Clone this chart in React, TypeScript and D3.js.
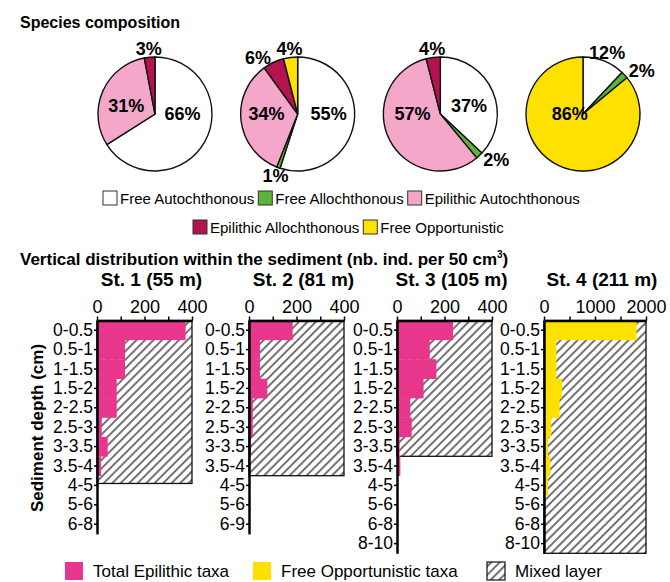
import * as d3 from "d3";
import { useEffect, useRef } from "react";

// species composition (%), one value per station
const stations = ["St. 1", "St. 2", "St. 3", "St. 4"];
const categories = [
  "Free Autochthonous",
  "Free Allochthonous",
  "Epilithic Autochthonous",
  "Epilithic Allochthonous",
  "Free Opportunistic",
];
const freeAutochthonous = [66, 55, 37, 12];
const freeAllochthonous = [0, 1, 2, 2];
const epilithicAutochthonous = [31, 34, 57, 0];
const epilithicAllochthonous = [3, 6, 4, 0];
const freeOpportunistic = [0, 4, 0, 86];

// vertical distribution (nb. ind. per 50 cm3)
const stationTitles = ["St. 1 (55 m)", "St. 2 (81 m)", "St. 3 (105 m)", "St. 4 (211 m)"];
const depthsSt1 = ["0-0.5", "0.5-1", "1-1.5", "1.5-2", "2-2.5", "2.5-3", "3-3.5", "3.5-4", "4-5", "5-6", "6-8"];
const depthsSt2 = ["0-0.5", "0.5-1", "1-1.5", "1.5-2", "2-2.5", "2.5-3", "3-3.5", "3.5-4", "4-5", "5-6", "6-9"];
const depthsSt3 = ["0-0.5", "0.5-1", "1-1.5", "1.5-2", "2-2.5", "2.5-3", "3-3.5", "3.5-4", "4-5", "5-6", "6-8", "8-10"];
const depthsSt4 = ["0-0.5", "0.5-1", "1-1.5", "1.5-2", "2-2.5", "2.5-3", "3-3.5", "3.5-4", "4-5", "5-6", "6-8", "8-10"];
const epilithicSt1 = [373, 118, 118, 83, 83, 20, 45, 17, 0, 0, 0];
const epilithicSt2 = [184, 46, 46, 77, 16, 16, 8, 0, 0, 0, 0];
const epilithicSt3 = [236, 138, 166, 112, 56, 62, 11, 14, 0, 0, 0, 0];
const opportunisticSt4 = [1816, 242, 242, 352, 307, 144, 78, 125, 78, 0, 0, 0];
// depth of the mixed layer, in depth-class units
const mixedLayerRows = [8.4, 8, 7, 12];
const axisMax = [400, 400, 400, 2000];
const ticks400 = [0, 100, 200, 300, 400];
const tickLabels400 = [0, 200, 400];
const ticks2000 = [0, 500, 1000, 1500, 2000];
const tickLabels2000 = [0, 1000, 2000];

const catColors = ["#ffffff", "#5bb53a", "#f4a7c9", "#b3134f", "#ffe100"];
const epiColor = "#e8368c";
const oppColor = "#ffe100";
const FONT = "'Liberation Sans', Arial, sans-serif";

export default function App() {
  const ref = useRef<SVGSVGElement | null>(null);

  useEffect(() => {
    const svg = d3.select(ref.current as SVGSVGElement);
    svg.selectAll("*").remove();
    svg.attr("font-family", FONT);

    const defs = svg.append("defs");
    const pat = defs
      .append("pattern")
      .attr("id", "hatch")
      .attr("patternUnits", "userSpaceOnUse")
      .attr("width", 6)
      .attr("height", 6)
      .attr("patternTransform", "rotate(45)");
    pat.append("line").attr("x1", 1).attr("y1", 0).attr("x2", 1).attr("y2", 6).attr("stroke", "#000").attr("stroke-width", 1.1);

    svg.append("text").attr("x", 20).attr("y", 28).attr("font-weight", "bold").attr("font-size", 16).text("Species composition");

    // ---- pies
    const series = [freeAutochthonous, freeAllochthonous, epilithicAutochthonous, epilithicAllochthonous, freeOpportunistic];
    const cx = d3.scalePoint<string>().domain(stations).range([155, 583]);
    const cy = 114;
    const R = 57;
    const pie = d3.pie<number>().sort(null).value((d) => d);
    const arc = d3.arc<d3.PieArcDatum<number>>().innerRadius(0).outerRadius(R);

    stations.forEach((s, i) => {
      const arcs = pie(series.map((v) => v[i])).filter((a) => a.value > 0);
      const g = svg.append("g").attr("transform", `translate(${cx(s)},${cy})`);
      g.selectAll("path")
        .data(arcs)
        .join("path")
        .attr("d", arc)
        .attr("fill", (d) => catColors[d.index])
        .attr("stroke", "#111")
        .attr("stroke-width", 1.4);

      const labels = arcs.map((a) => {
        const mid = (a.startAngle + a.endAngle) / 2;
        const sn = Math.sin(mid);
        const cs = Math.cos(mid);
        if (a.value >= 15) {
          const r = 0.55 * R;
          return { text: `${a.value}%`, x: r * sn, y: Math.min(0, -r * cs) * 0.7, anchor: "middle" };
        }
        const side = sn > 0.4 ? "start" : sn < -0.4 ? "end" : "middle";
        const r = side === "middle" ? 1.15 * R : 1.1 * R;
        return { text: `${a.value}%`, x: r * sn, y: -r * cs, anchor: side };
      });
      g.selectAll("text")
        .data(labels)
        .join("text")
        .attr("x", (d) => d.x)
        .attr("y", (d) => d.y)
        .attr("dy", "0.35em")
        .attr("text-anchor", (d) => d.anchor)
        .attr("font-weight", "bold")
        .attr("font-size", 18)
        .text((d) => d.text);
    });

    // ---- pie legend
    const legendRows = [
      { start: 103, y: 198, items: [0, 1, 2] },
      { start: 193, y: 227, items: [3, 4] },
    ];
    legendRows.forEach((row) => {
      let xPos = row.start;
      row.items.forEach((ci) => {
        svg.append("rect").attr("x", xPos).attr("y", row.y - 7).attr("width", 14).attr("height", 14)
          .attr("fill", catColors[ci]).attr("stroke", "#333").attr("stroke-width", 1);
        const t = svg.append("text").attr("x", xPos + 17).attr("y", row.y + 5.5).attr("font-size", 15).text(categories[ci]);
        const w = (t.node() as SVGTextElement).getComputedTextLength();
        xPos += 17 + w + 4;
      });
    });

    // ---- vertical distribution
    const title = svg.append("text").attr("x", 20).attr("y", 265).attr("font-weight", "bold").attr("font-size", 17);
    title.append("tspan").text("Vertical distribution within the sediment (nb. ind. per 50 cm");
    title.append("tspan").attr("font-size", 10).attr("dy", -7).text("3");
    title.append("tspan").attr("dy", 7).text(")");

    const panels = [
      { depths: depthsSt1, values: epilithicSt1, color: epiColor, ticks: ticks400, labels: tickLabels400 },
      { depths: depthsSt2, values: epilithicSt2, color: epiColor, ticks: ticks400, labels: tickLabels400 },
      { depths: depthsSt3, values: epilithicSt3, color: epiColor, ticks: ticks400, labels: tickLabels400 },
      { depths: depthsSt4, values: opportunisticSt4, color: oppColor, ticks: ticks2000, labels: tickLabels2000 },
    ];
    const panelLeft = [97, 249, 397, 544];
    const panelWidth = [95, 95, 95, 102];
    const top = 320.5;
    const rowH = 19.4;

    panels.forEach((p, i) => {
      const x = d3.scaleLinear().domain([0, axisMax[i]]).range([panelLeft[i], panelLeft[i] + panelWidth[i]]);
      const bottom = top + p.depths.length * rowH;
      const y = d3.scaleBand<string>().domain(p.depths).range([top, bottom]).padding(0);
      const yRow = d3.scaleLinear().domain([0, p.depths.length]).range([top, bottom]);
      const g = svg.append("g");

      g.append("rect")
        .attr("x", x(0))
        .attr("y", top)
        .attr("width", x(axisMax[i]) - x(0))
        .attr("height", yRow(mixedLayerRows[i]) - top)
        .attr("fill", "url(#hatch)")
        .attr("stroke", "#111")
        .attr("stroke-width", 1.3);

      g.selectAll("rect.bar")
        .data(p.values)
        .join("rect")
        .attr("class", "bar")
        .attr("x", x(0))
        .attr("y", (_, j) => y(p.depths[j]) as number)
        .attr("width", (d) => x(d) - x(0))
        .attr("height", y.bandwidth() + 0.3)
        .attr("fill", p.color);

      const axT = g
        .append("g")
        .attr("transform", `translate(0,${top})`)
        .call(
          d3
            .axisTop(x)
            .tickValues(p.ticks)
            .tickSize(4)
            .tickSizeOuter(0)
            .tickPadding(4)
            .tickFormat((d) => (p.labels.includes(+d) ? String(d) : ""))
        );
      axT.select(".domain").attr("stroke-width", 2.5).attr("stroke", "#000");
      axT.selectAll(".tick line").attr("stroke-width", 1.5);
      axT.selectAll("text").attr("font-size", 18).attr("font-family", FONT).attr("fill", "#000");

      const axL = g
        .append("g")
        .attr("transform", `translate(${x(0)},0)`)
        .call(d3.axisLeft(y).tickSize(3).tickSizeOuter(0).tickPadding(1));
      axL.select(".domain").attr("stroke-width", 2.5).attr("stroke", "#000");
      axL.selectAll(".tick line").attr("stroke-width", 1.5);
      axL.selectAll("text").attr("font-size", 17.5).attr("font-family", FONT).attr("fill", "#000");

      g.append("text")
        .attr("x", (x(0) + x(axisMax[i])) / 2 + 7)
        .attr("y", 286)
        .attr("text-anchor", "middle")
        .attr("font-weight", "bold")
        .attr("font-size", 19)
        .text(stationTitles[i]);
    });

    svg.append("text")
      .attr("transform", "translate(43,428) rotate(-90)")
      .attr("text-anchor", "middle")
      .attr("font-weight", "bold")
      .attr("font-size", 17)
      .text("Sediment depth (cm)");

    // ---- bottom legend
    const bottomLegend = [
      { x: 65, fill: epiColor, label: "Total Epilithic taxa", stroke: "none" },
      { x: 253, fill: oppColor, label: "Free Opportunistic taxa", stroke: "none" },
      { x: 487, fill: "url(#hatch)", label: "Mixed layer", stroke: "#111" },
    ];
    bottomLegend.forEach((it) => {
      svg.append("rect").attr("x", it.x).attr("y", 562).attr("width", 18).attr("height", 18)
        .attr("fill", it.fill).attr("stroke", it.stroke).attr("stroke-width", 1.2);
      svg.append("text").attr("x", it.x + 28).attr("y", 577).attr("font-size", 17).text(it.label);
    });
  }, []);

  return (
    <svg
      ref={ref}
      width={670}
      height={582}
      style={{ position: "absolute", left: 0, top: 0, background: "#fff" }}
    />
  );
}
